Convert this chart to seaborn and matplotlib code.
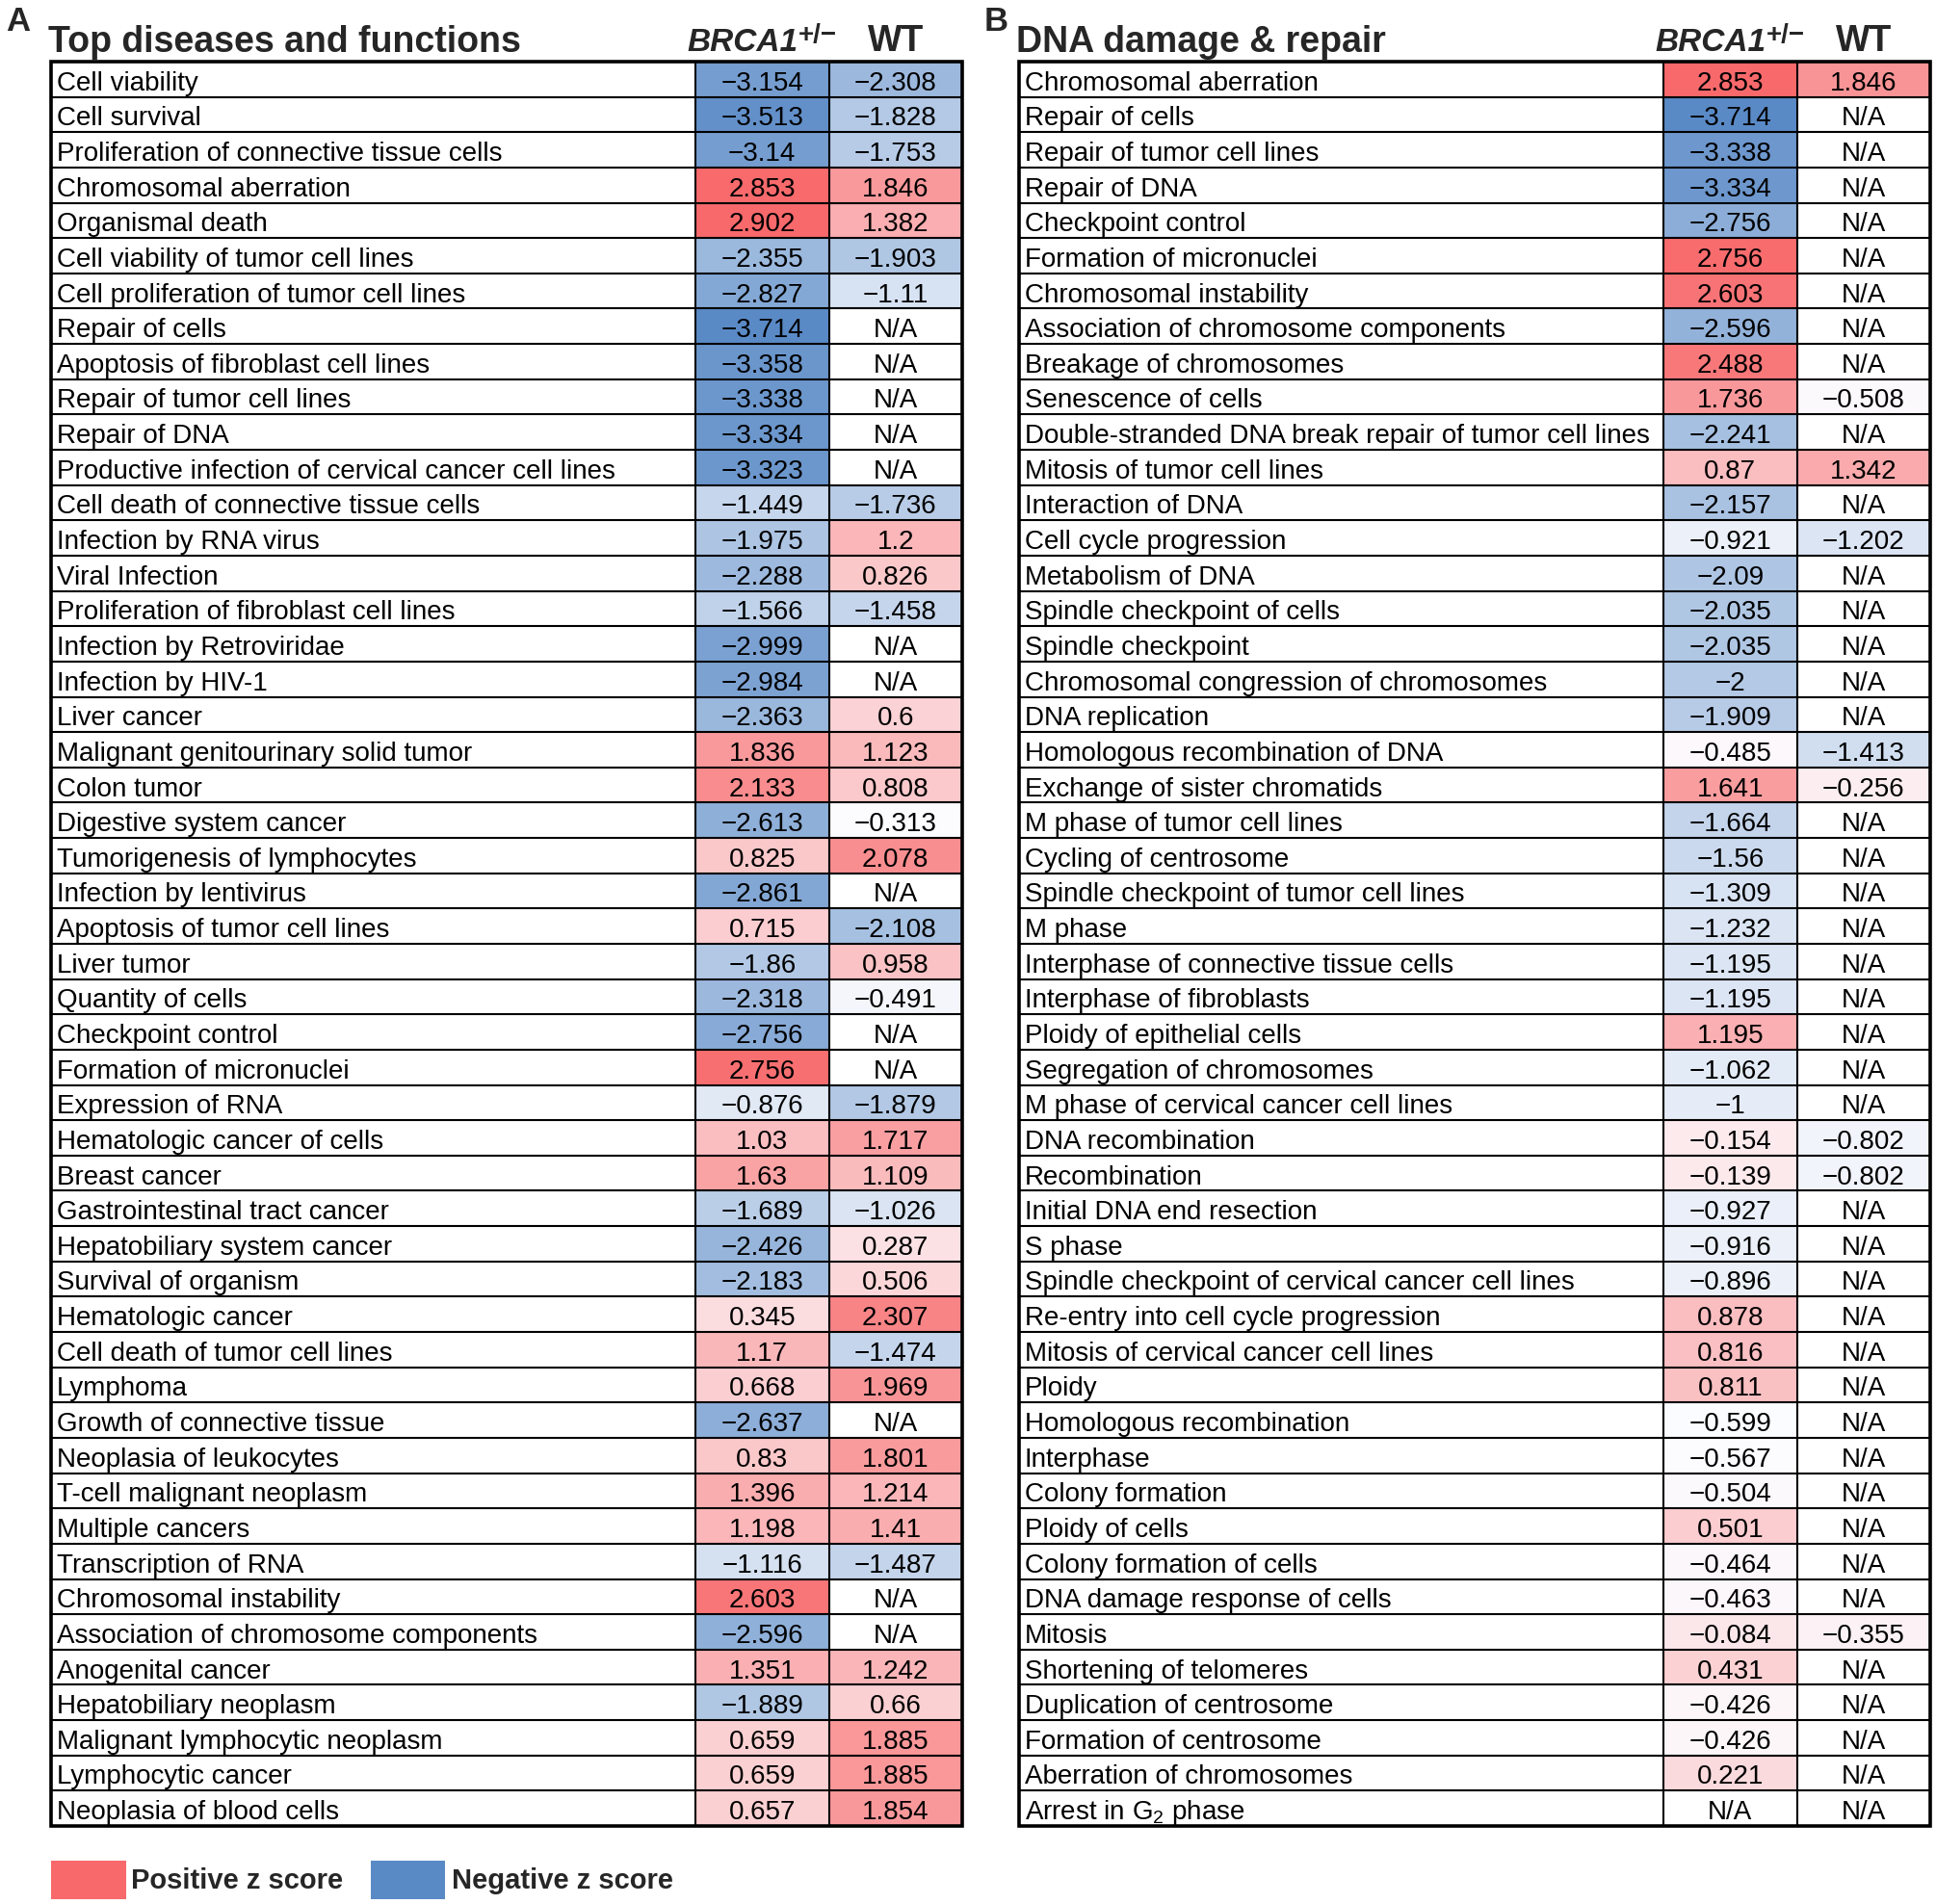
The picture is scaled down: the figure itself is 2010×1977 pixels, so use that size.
import numpy as np
import pandas as pd
import matplotlib
matplotlib.use("Agg")
import matplotlib.pyplot as plt
import seaborn as sns
from matplotlib.colors import LinearSegmentedColormap, TwoSlopeNorm
from matplotlib.patches import Rectangle

NA = np.nan

# ---------------- Panel A data ----------------
a_labels = [
    "Cell viability", "Cell survival", "Proliferation of connective tissue cells",
    "Chromosomal aberration", "Organismal death", "Cell viability of tumor cell lines",
    "Cell proliferation of tumor cell lines", "Repair of cells",
    "Apoptosis of fibroblast cell lines", "Repair of tumor cell lines", "Repair of DNA",
    "Productive infection of cervical cancer cell lines",
    "Cell death of connective tissue cells", "Infection by RNA virus", "Viral Infection",
    "Proliferation of fibroblast cell lines", "Infection by Retroviridae",
    "Infection by HIV-1", "Liver cancer", "Malignant genitourinary solid tumor",
    "Colon tumor", "Digestive system cancer", "Tumorigenesis of lymphocytes",
    "Infection by lentivirus", "Apoptosis of tumor cell lines", "Liver tumor",
    "Quantity of cells", "Checkpoint control", "Formation of micronuclei",
    "Expression of RNA", "Hematologic cancer of cells", "Breast cancer",
    "Gastrointestinal tract cancer", "Hepatobiliary system cancer",
    "Survival of organism", "Hematologic cancer", "Cell death of tumor cell lines",
    "Lymphoma", "Growth of connective tissue", "Neoplasia of leukocytes",
    "T-cell malignant neoplasm", "Multiple cancers", "Transcription of RNA",
    "Chromosomal instability", "Association of chromosome components",
    "Anogenital cancer", "Hepatobiliary neoplasm", "Malignant lymphocytic neoplasm",
    "Lymphocytic cancer", "Neoplasia of blood cells",
]
a_brca1 = [
    -3.154, -3.513, -3.14, 2.853, 2.902, -2.355, -2.827, -3.714, -3.358, -3.338,
    -3.334, -3.323, -1.449, -1.975, -2.288, -1.566, -2.999, -2.984, -2.363, 1.836,
    2.133, -2.613, 0.825, -2.861, 0.715, -1.86, -2.318, -2.756, 2.756, -0.876,
    1.03, 1.63, -1.689, -2.426, -2.183, 0.345, 1.17, 0.668, -2.637, 0.83,
    1.396, 1.198, -1.116, 2.603, -2.596, 1.351, -1.889, 0.659, 0.659, 0.657,
]
a_wt = [
    -2.308, -1.828, -1.753, 1.846, 1.382, -1.903, -1.11, NA, NA, NA,
    NA, NA, -1.736, 1.2, 0.826, -1.458, NA, NA, 0.6, 1.123,
    0.808, -0.313, 2.078, NA, -2.108, 0.958, -0.491, NA, NA, -1.879,
    1.717, 1.109, -1.026, 0.287, 0.506, 2.307, -1.474, 1.969, NA, 1.801,
    1.214, 1.41, -1.487, NA, NA, 1.242, 0.66, 1.885, 1.885, 1.854,
]

# ---------------- Panel B data ----------------
b_labels = [
    "Chromosomal aberration", "Repair of cells", "Repair of tumor cell lines",
    "Repair of DNA", "Checkpoint control", "Formation of micronuclei",
    "Chromosomal instability", "Association of chromosome components",
    "Breakage of chromosomes", "Senescence of cells",
    "Double-stranded DNA break repair of tumor cell lines",
    "Mitosis of tumor cell lines", "Interaction of DNA", "Cell cycle progression",
    "Metabolism of DNA", "Spindle checkpoint of cells", "Spindle checkpoint",
    "Chromosomal congression of chromosomes", "DNA replication",
    "Homologous recombination of DNA", "Exchange of sister chromatids",
    "M phase of tumor cell lines", "Cycling of centrosome",
    "Spindle checkpoint of tumor cell lines", "M phase",
    "Interphase of connective tissue cells", "Interphase of fibroblasts",
    "Ploidy of epithelial cells", "Segregation of chromosomes",
    "M phase of cervical cancer cell lines", "DNA recombination", "Recombination",
    "Initial DNA end resection", "S phase",
    "Spindle checkpoint of cervical cancer cell lines",
    "Re-entry into cell cycle progression", "Mitosis of cervical cancer cell lines",
    "Ploidy", "Homologous recombination", "Interphase", "Colony formation",
    "Ploidy of cells", "Colony formation of cells", "DNA damage response of cells",
    "Mitosis", "Shortening of telomeres", "Duplication of centrosome",
    "Formation of centrosome", "Aberration of chromosomes", "Arrest in G$_2$ phase",
]
b_brca1 = [
    2.853, -3.714, -3.338, -3.334, -2.756, 2.756, 2.603, -2.596, 2.488, 1.736,
    -2.241, 0.87, -2.157, -0.921, -2.09, -2.035, -2.035, -2.0, -1.909, -0.485,
    1.641, -1.664, -1.56, -1.309, -1.232, -1.195, -1.195, 1.195, -1.062, -1.0,
    -0.154, -0.139, -0.927, -0.916, -0.896, 0.878, 0.816, 0.811, -0.599, -0.567,
    -0.504, 0.501, -0.464, -0.463, -0.084, 0.431, -0.426, -0.426, 0.221, NA,
]
b_wt = [
    1.846, NA, NA, NA, NA, NA, NA, NA, NA, -0.508,
    NA, 1.342, NA, -1.202, NA, NA, NA, NA, NA, -1.413,
    -0.256, NA, NA, NA, NA, NA, NA, NA, NA, NA,
    -0.802, -0.802, NA, NA, NA, NA, NA, NA, NA, NA,
    NA, NA, NA, NA, -0.355, NA, NA, NA, NA, NA,
]

col_names = ["BRCA1", "WT"]
titles = ["Top diseases and functions", "DNA damage & repair"]
letters = ["A", "B"]
legend_labels = ["Positive z score", "Negative z score"]

RED, MID, BLUE = "#F8696B", "#FCFCFF", "#5A8AC6"

# ---------------- style ----------------
sns.set_style("white")
plt.rcParams["font.family"] = ["Liberation Sans", "DejaVu Sans"]
plt.rcParams["mathtext.fontset"] = "custom"
plt.rcParams["mathtext.rm"] = "Liberation Sans"
plt.rcParams["mathtext.it"] = "Liberation Sans:italic"
plt.rcParams["mathtext.bf"] = "Liberation Sans:bold"

W, H = 2010, 1977
fig = plt.figure(figsize=(W / 100, H / 100), dpi=100)
fig.patch.set_facecolor("white")


def fx(px):
    return px / W


def fy(py):
    return 1 - py / H


cmap = LinearSegmentedColormap.from_list("excel3", [BLUE, MID, RED])


def fmt_val(v):
    if np.isnan(v):
        return "N/A"
    return f"{v:g}".replace("-", "\u2212")


FS = 20


def draw_panel(left, split, right, top, bottom, labels, brca, wt, title, letter, letter_x):
    ax = fig.add_axes([fx(left), fy(bottom), (right - left) / W, (bottom - top) / H])
    df = pd.DataFrame({col_names[0]: brca, col_names[1]: wt}, index=labels)
    vals = df.values.astype(float)
    norm = TwoSlopeNorm(vmin=np.nanmin(vals), vcenter=np.nanmedian(vals),
                        vmax=np.nanmax(vals))
    annot = np.vectorize(fmt_val, otypes=[object])(vals)
    sns.heatmap(df, ax=ax, cmap=cmap, norm=norm, annot=annot, fmt="", cbar=False,
                xticklabels=False, yticklabels=False, linewidths=0,
                annot_kws=dict(fontsize=FS, color="black"))
    n = len(labels)
    unit = (right - split) / 2.0
    L = (split - left) / unit
    ax.set_xlim(-L, 2)
    ax.set_ylim(n, 0)
    ax.set_facecolor("white")
    # N/A texts
    for i in range(n):
        for j in range(2):
            if np.isnan(vals[i, j]):
                ax.text(j + 0.5, i + 0.5, "N/A", ha="center", va="center",
                        fontsize=FS, color="black")
    # row labels
    for i, lab in enumerate(labels):
        ax.text(-L + 6 / unit, i + 0.5, lab, ha="left", va="center",
                fontsize=FS, color="black")
    # slight downward shift of all texts like the reference
    for t in ax.texts:
        x, y = t.get_position()
        t.set_position((x, y + 0.12))
    # grid
    ax.hlines(np.arange(1, n), -L, 2, color="black", lw=1.5)
    ax.vlines([0, 1], 0, n, color="black", lw=1.5)
    ax.add_patch(Rectangle((-L, 0), L + 2, n, fill=False, lw=2.6,
                           edgecolor="black", clip_on=False))
    # headers
    c1 = split + unit * 0.5
    c2 = split + unit * 1.5
    fig.text(fx(c1 + 37), fy(53), "BRCA1", ha="right", va="baseline",
             fontsize=24, fontweight="bold", fontstyle="italic")
    fig.text(fx(c1 + 38), fy(44), "+/\u2212", ha="left", va="baseline",
             fontsize=20, fontweight="bold")
    fig.text(fx(c2), fy(53), "WT", ha="center", va="baseline",
             fontsize=27, fontweight="bold")
    fig.text(fx(left - 3), fy(54), title, ha="left", va="baseline",
             fontsize=27, fontweight="bold")
    fig.text(fx(letter_x), fy(32), letter, ha="left", va="baseline",
             fontsize=25, fontweight="bold")
    return ax


draw_panel(53, 722, 999, 64, 1896, a_labels, a_brca1, a_wt, titles[0], letters[0], 6)
draw_panel(1058, 1727, 2004, 64, 1896, b_labels, b_brca1, b_wt, titles[1], letters[1], 1022)

# legend
for (x0, x1, tx, col, lab) in [(53, 131, 136, RED, legend_labels[0]),
                                (385, 462, 469, BLUE, legend_labels[1])]:
    fig.add_artist(Rectangle((fx(x0), fy(1972)), (x1 - x0) / W, 40 / H,
                             transform=fig.transFigure, facecolor=col,
                             edgecolor="none"))
    fig.text(fx(tx), fy(1953), lab, ha="left", va="center", fontsize=21,
             fontweight="bold")

fig.savefig("out.png", dpi=100, facecolor="white")
